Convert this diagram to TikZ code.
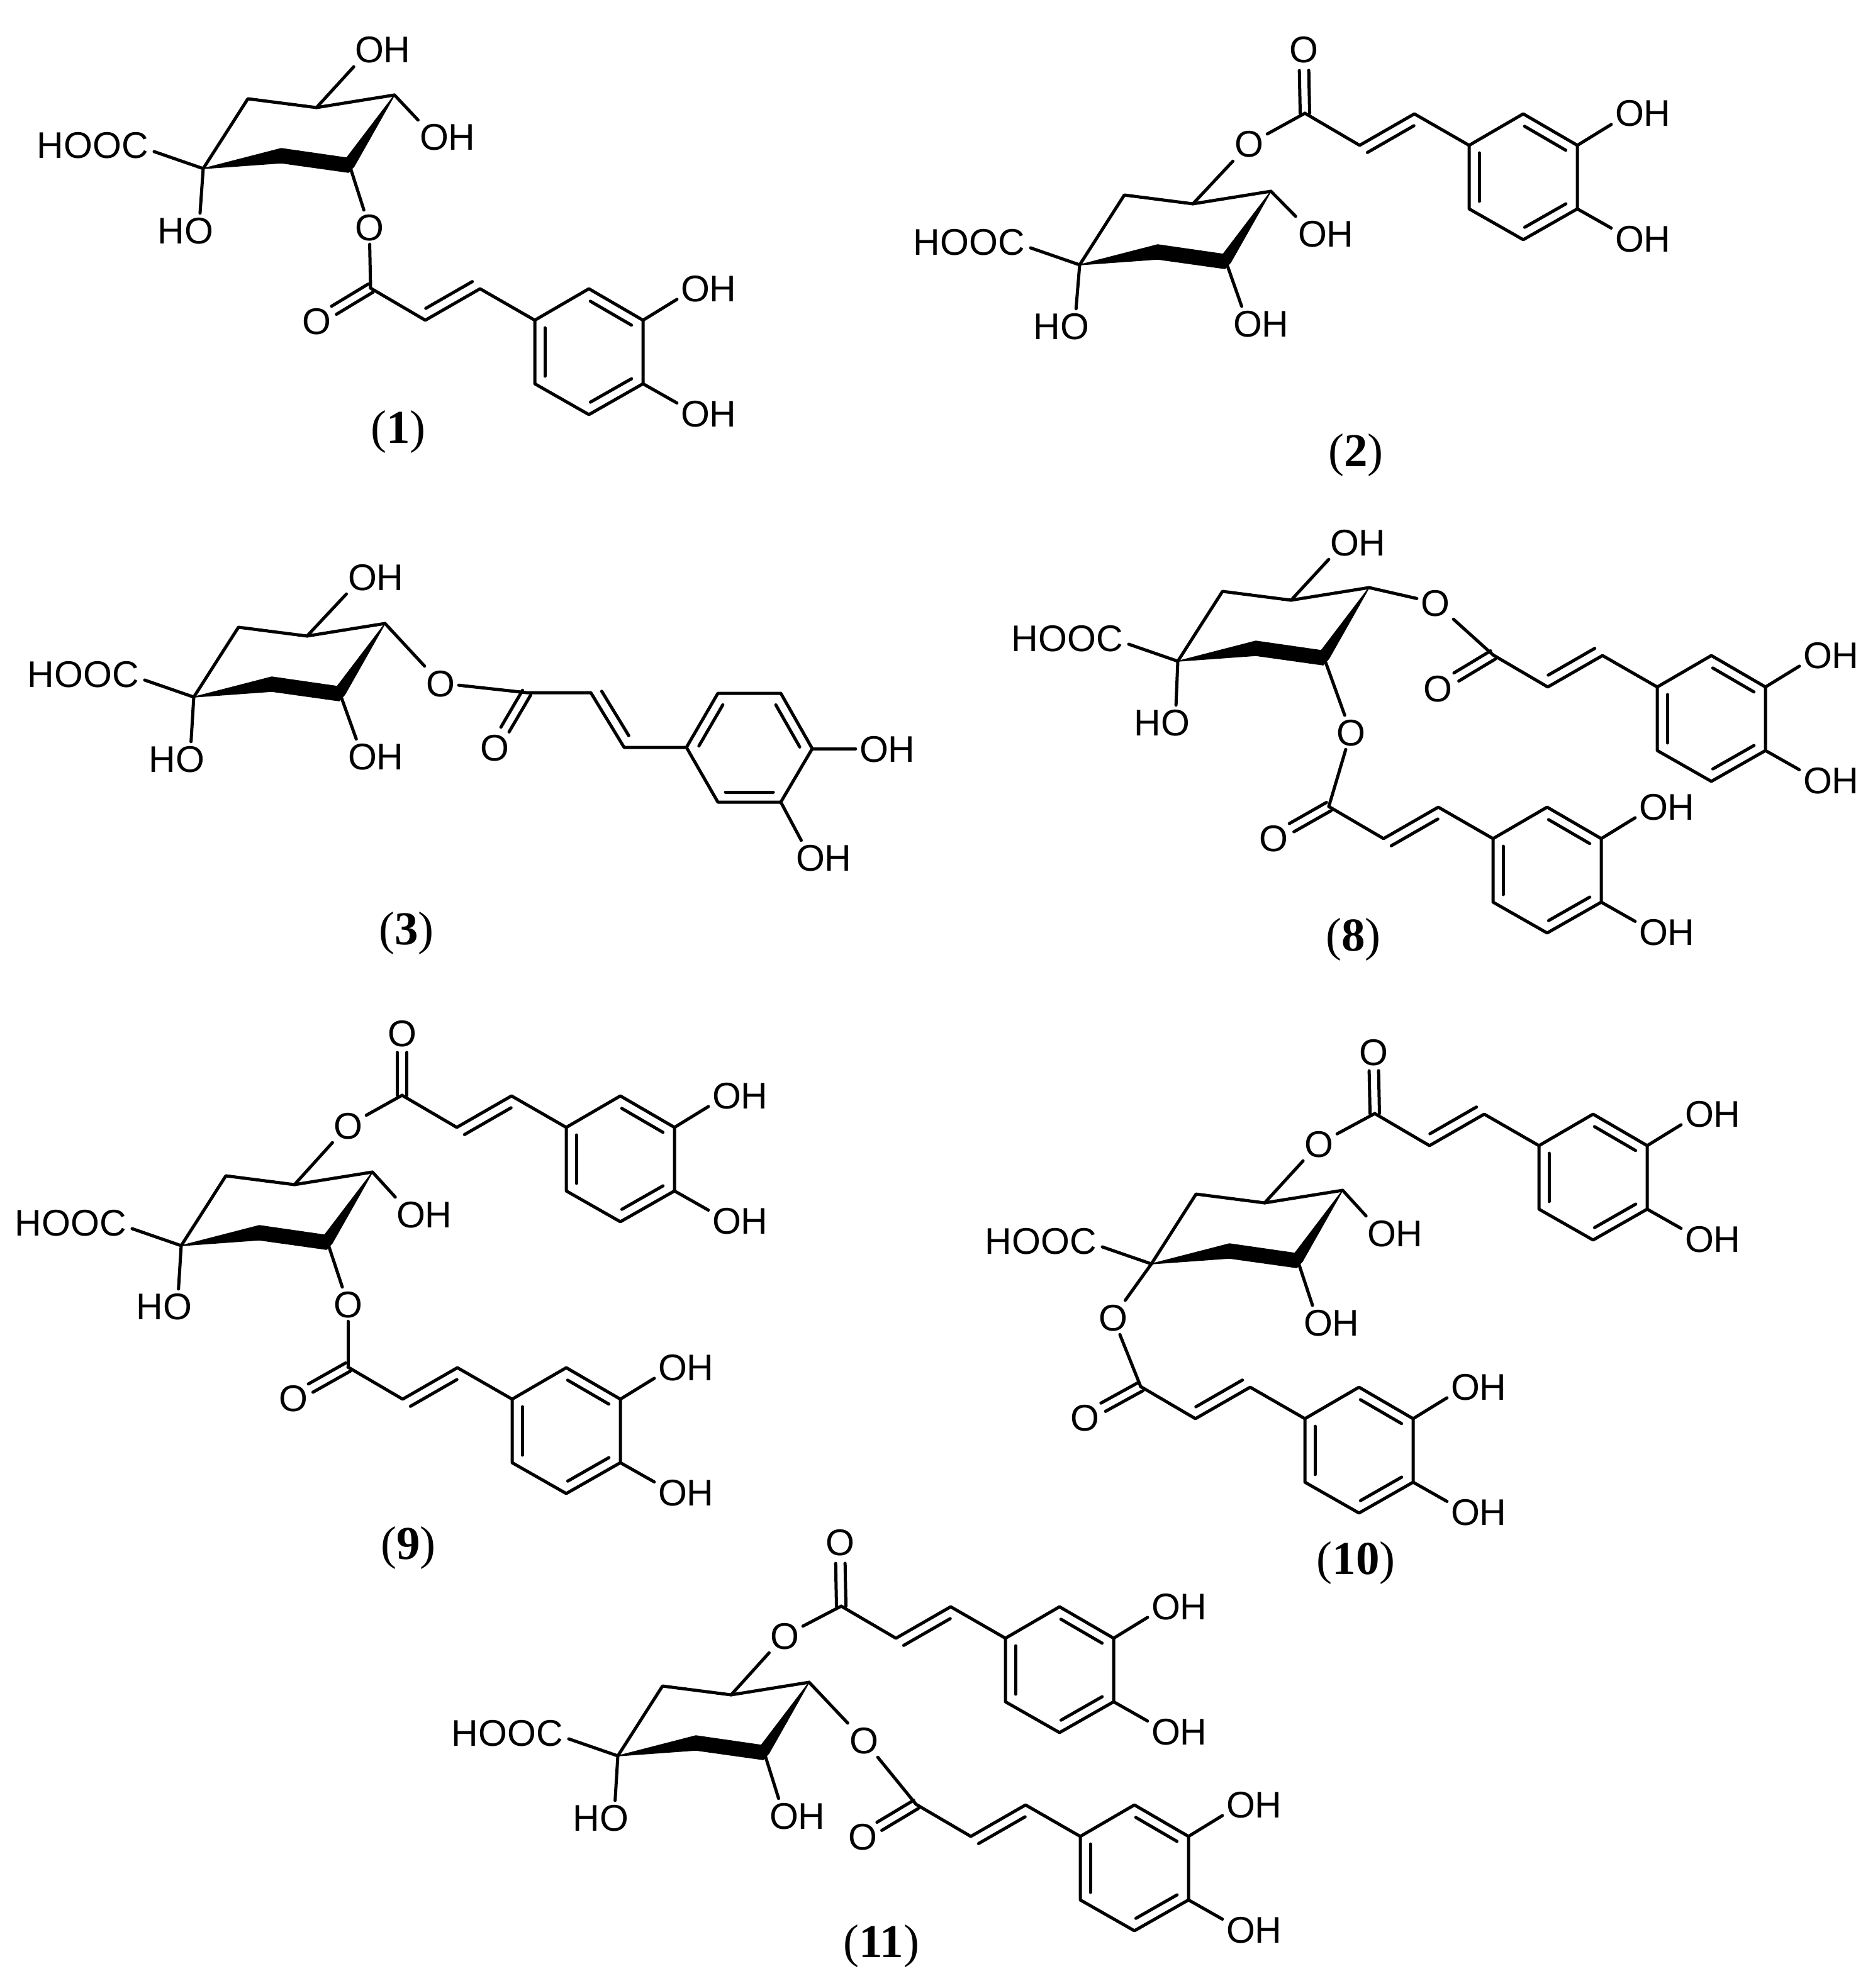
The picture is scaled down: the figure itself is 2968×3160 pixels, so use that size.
\documentclass[tikz,border=0pt]{standalone}
\usepackage{fontspec}
\setmainfont{Liberation Sans}
\newfontfamily\capfamily{Liberation Serif}
\usetikzlibrary{calc}
\newcommand{\lblfont}{\fontsize{59}{62}\selectfont}
\tikzset{
  bond/.style={draw=black,line width=5pt,line cap=round,line join=round},
  lbl/.style={font=\lblfont,inner sep=6pt,text height=42pt,text depth=0pt,text=black},
  acid/.style={font=\lblfont,inner sep=0pt,text height=42pt,text depth=0pt,anchor=east,text=black},
  captext/.style={font=\capfamily\fontsize{75}{78}\selectfont,inner sep=0pt,text=black},
  wedgefill/.style={fill=black,draw=black,line width=1.5pt,line join=round}
}
% labels: node box covers the O only, so that bonds aim at the oxygen
\newcommand{\lblO}[3]{\node[lbl] (#1) at (#2,#3) {O};}
\newcommand{\lblOH}[3]{\node[lbl,xshift=-22pt] (#1) at (#2,#3) {O\rlap{H}};}
\newcommand{\lblHO}[3]{\node[lbl,xshift=22pt] (#1) at (#2,#3) {\llap{H}O};}
% parallel inner line: a,b,t1,t2
\newcommand{\pb}[4]{\draw[bond] ($(#1)!#3!(#2)!16pt!90:(#2)$) -- ($(#1)!#4!(#2)!16pt!-90:(#1)$);}
% carbonyl double bond from C toward O
\newcommand{\carb}[2]{%
  \draw[bond] ($(#1)!7.5pt!90:(#2)$) -- ($(#1)!68pt!(#2)!7.5pt!90:(#2)$);
  \draw[bond] ($(#1)!7.5pt!-90:(#2)$) -- ($(#1)!68pt!(#2)!7.5pt!-90:(#2)$);}
% quinic chair: name,x,y
\newcommand{\chair}[3]{%
  \begin{scope}[shift={(#2,#3)}]
    \coordinate (#1c) at (0,0);
    \coordinate (#1l) at (71,-111);
    \coordinate (#1t) at (180,-97);
    \coordinate (#1r) at (304,-117);
    \coordinate (#1f) at (234,-1);
    \coordinate (#1fa) at (124,-32);
    \coordinate (#1fb) at (228,-17);
    \coordinate (#1fc) at (240,-4);
    \coordinate (#1fd) at (231,6);
    \coordinate (#1fe) at (124,-9);
    \node[acid] (#1h) at (-87,-37) {HOOC};
  \end{scope}
  \draw[bond] (#1c) -- (#1l) -- (#1t) -- (#1r);
  \fill[wedgefill] (#1c) -- (#1fa) -- (#1fb) -- (#1r) -- (#1fc) -- (#1fd) -- (#1fe) -- cycle;
  \draw[bond] (#1c) -- ([xshift=9pt,yshift=-10pt]#1h.east);
}
% caffeoyl: name,x,y of carbonyl C, order of the alkene ends
\newcommand{\caff}[5]{%
  \begin{scope}[shift={(#2,#3)}]
    \coordinate (#1k) at (0,0);
    \coordinate (#1a) at (87,51);
    \coordinate (#1b) at (174,1);
    \coordinate (#1r1) at (261,51);
    \coordinate (#1r2) at (347,1);
    \coordinate (#1r3) at (433,51);
    \coordinate (#1r4) at (433,152);
    \coordinate (#1r5) at (347,201);
    \coordinate (#1r6) at (261,152);
    \lblOH{#1x}{538}{0}
    \lblOH{#1y}{538}{199}
  \end{scope}
  \draw[bond] (#1k) -- (#1a) -- (#1b) -- (#1r1) -- (#1r2) -- (#1r3) -- (#1r4) -- (#1r5) -- (#1r6) -- (#1r1);
  \draw[bond] (#1r3) -- (#1x);
  \draw[bond] (#1r4) -- (#1y);
  \pb{#1#4}{#1#5}{0.1}{0.95}
  \pb{#1r1}{#1r6}{0.12}{0.88}
  \pb{#1r3}{#1r2}{0.12}{0.88}
  \pb{#1r5}{#1r4}{0.12}{0.88}
}
\begin{document}
\begin{tikzpicture}[x=1pt,y=-1pt]
\fill[white] (0,0) rectangle (2968,3160);
\useasboundingbox (0,0) rectangle (2968,3160);

% ---------- 1
\chair{m1}{323}{268}
\lblOH{m1p}{609}{79}
\lblOH{m1q}{712}{218}
\lblHO{m1s}{294}{366}
\lblO{m1e}{587}{361}
\caff{m1x}{589}{458}{a}{b}
\lblO{m1o}{503}{510}
\draw[bond] (m1t) -- (m1p);
\draw[bond] (m1r) -- (m1q);
\draw[bond] (m1c) -- (m1s);
\draw[bond] (m1f) -- (m1e);
\draw[bond] (m1e) -- (m1xk);
\carb{m1xk}{m1o}
\node[captext] (cap1) at (633,686) {(\textbf{1})};

% ---------- 2
\chair{m2}{1716}{421}
\lblO{m2e}{1985}{229}
\lblOH{m2q}{2108}{371}
\lblHO{m2s}{1686}{518}
\lblOH{m2u}{2005}{514}
\caff{m2x}{2074}{180}{b}{a}
\lblO{m2o}{2072}{79}
\draw[bond] (m2t) -- (m2e);
\draw[bond] (m2r) -- (m2q);
\draw[bond] (m2c) -- (m2s);
\draw[bond] (m2f) -- (m2u);
\draw[bond] (m2e) -- (m2xk);
\carb{m2xk}{m2o}
\node[captext] (cap2) at (2155,723) {(\textbf{2})};

% ---------- 3
\chair{m3}{308}{1108}
\lblOH{m3p}{598}{917}
\lblHO{m3s}{280}{1206}
\lblOH{m3u}{598}{1202}
\lblO{m3e}{700}{1086}
\lblO{m3o}{786}{1188}
\coordinate (m3k) at (837,1101);
\coordinate (m3a) at (939,1101);
\coordinate (m3b) at (992,1188);
\coordinate (m3r1) at (1091,1188);
\coordinate (m3r2) at (1141,1102);
\coordinate (m3r3) at (1241,1102);
\coordinate (m3r4) at (1291,1190);
\coordinate (m3r5) at (1241,1275);
\coordinate (m3r6) at (1141,1275);
\lblOH{m3x}{1411}{1190}
\lblOH{m3y}{1310}{1363}
\draw[bond] (m3t) -- (m3p);
\draw[bond] (m3r) -- (m3e);
\draw[bond] (m3c) -- (m3s);
\draw[bond] (m3f) -- (m3u);
\draw[bond] (m3e) -- (m3k) -- (m3a) -- (m3b) -- (m3r1) -- (m3r2) -- (m3r3) -- (m3r4) -- (m3r5) -- (m3r6) -- (m3r1);
\draw[bond] (m3r4) -- (m3x);
\draw[bond] (m3r5) -- (m3y);
\carb{m3k}{m3o}
\pb{m3a}{m3b}{0.07}{0.88}
\pb{m3r2}{m3r1}{0.12}{0.88}
\pb{m3r4}{m3r3}{0.12}{0.88}
\pb{m3r6}{m3r5}{0.12}{0.88}
\node[captext] (cap3) at (646,1483) {(\textbf{3})};

% ---------- 8
\chair{m8}{1872}{1051}
\lblOH{m8p}{2159}{862}
\lblHO{m8s}{1846}{1148}
\lblO{m8e}{2281}{958}
\caff{m8x}{2373}{1041}{a}{b}
\lblO{m8o}{2285}{1094}
\lblO{m8g}{2147}{1164}
\caff{m8w}{2112}{1282}{b}{a}
\lblO{m8v}{2024}{1332}
\draw[bond] (m8t) -- (m8p);
\draw[bond] (m8c) -- (m8s);
\draw[bond] (m8r) -- (m8e);
\draw[bond] (m8e) -- (m8xk);
\carb{m8xk}{m8o}
\draw[bond] (m8f) -- (m8g);
\draw[bond] (m8g) -- (m8wk);
\carb{m8wk}{m8v}
\node[captext] (cap8) at (2151,1493) {(\textbf{8})};

% ---------- 9
\chair{m9}{288}{1980}
\lblO{m9e}{553}{1789}
\caff{m9x}{639}{1741}{b}{a}
\lblO{m9o}{639}{1642}
\lblOH{m9q}{675}{1930}
\lblHO{m9s}{260}{2076}
\lblO{m9g}{553}{2073}
\caff{m9w}{553}{2173}{b}{a}
\lblO{m9v}{466}{2222}
\draw[bond] (m9t) -- (m9e);
\draw[bond] (m9e) -- (m9xk);
\carb{m9xk}{m9o}
\draw[bond] (m9r) -- (m9q);
\draw[bond] (m9c) -- (m9s);
\draw[bond] (m9f) -- (m9g);
\draw[bond] (m9g) -- (m9wk);
\carb{m9wk}{m9v}
\node[captext] (cap9) at (649,2460) {(\textbf{9})};

% ---------- 10
\chair{m10}{1830}{2009}
\lblO{m10e}{2096}{1818}
\caff{m10x}{2185}{1770}{a}{b}
\lblO{m10o}{2183}{1672}
\lblOH{m10q}{2218}{1960}
\lblOH{m10u}{2117}{2102}
\lblO{m10g}{1769}{2094}
\caff{m10w}{1813}{2204}{a}{b}
\lblO{m10v}{1724}{2253}
\draw[bond] (m10t) -- (m10e);
\draw[bond] (m10e) -- (m10xk);
\carb{m10xk}{m10o}
\draw[bond] (m10r) -- (m10q);
\draw[bond] (m10f) -- (m10u);
\draw[bond] (m10c) -- (m10g);
\draw[bond] (m10g) -- (m10wk);
\carb{m10wk}{m10v}
\node[captext] (cap10) at (2155,2484) {(\textbf{10})};

% ---------- 11
\chair{m11}{982}{2791}
\lblO{m11e}{1247}{2600}
\caff{m11x}{1337}{2553}{b}{a}
\lblO{m11o}{1335}{2451}
\lblO{m11g}{1373}{2766}
\caff{m11w}{1456}{2868}{b}{a}
\lblO{m11v}{1371}{2919}
\lblHO{m11s}{954}{2889}
\lblOH{m11u}{1268}{2886}
\draw[bond] (m11t) -- (m11e);
\draw[bond] (m11e) -- (m11xk);
\carb{m11xk}{m11o}
\draw[bond] (m11r) -- (m11g);
\draw[bond] (m11g) -- (m11wk);
\carb{m11wk}{m11v}
\draw[bond] (m11c) -- (m11s);
\draw[bond] (m11f) -- (m11u);
\node[captext] (cap11) at (1401,3093) {(\textbf{11})};
\end{tikzpicture}
\end{document}
